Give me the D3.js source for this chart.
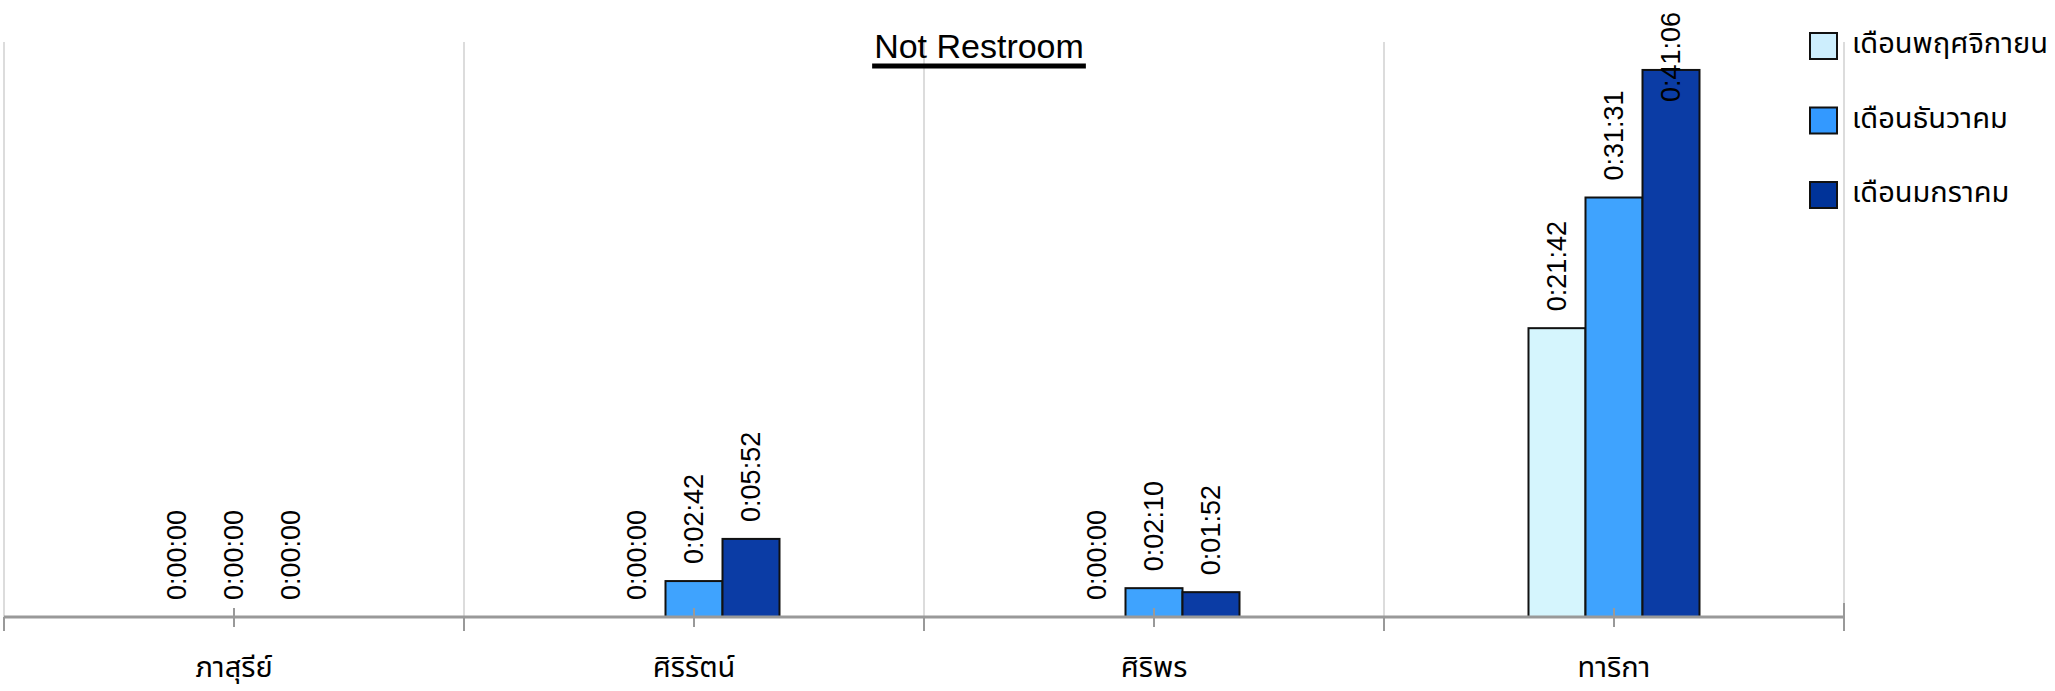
<!DOCTYPE html>
<html>
<head>
<meta charset="utf-8">
<script src="https://cdn.jsdelivr.net/npm/d3@7"></script>
<style>
  body { margin: 0; background: #fff; }
  svg { display: block; }
</style>
</head>
<body>
<div id="chart"></div>
<script>
// Chart data (durations in seconds, labels as h:mm:ss)
var categories = ["ภาสุรีย์", "ศิริรัตน์", "ศิริพร", "ทาริกา"];
var seriesNames = ["เดือนพฤศจิกายน", "เดือนธันวาคม", "เดือนมกราคม"];
var novValues = [0, 0, 0, 1302];
var decValues = [0, 162, 130, 1891];
var janValues = [0, 352, 112, 2466];
var yMax = 2592;
var titleText = "Not Restroom";

function fmt(s) {
    var h = Math.floor(s / 3600);
    var m = Math.floor((s % 3600) / 60);
    var sec = s % 60;
    return h + ":" + (m < 10 ? "0" : "") + m + ":" + (sec < 10 ? "0" : "") + sec;
}

function init() {
    var w = 2055, h = 691;
    var left = 4, right = 1844, top = 42, bottom = 617;
    var barColors = ["#d5f5fd", "#3fa3fe", "#0b3ca5"];
    var legendColors = ["#cdeefd", "#3399ff", "#003399"];
    var numFont = "'Liberation Sans', Arial, sans-serif";
    var thaiFont = "'Noto Sans Thai', 'Noto Sans Thai UI', 'Noto Sans', sans-serif";

    var svg = d3.select("#chart").append("svg")
        .attr("width", w).attr("height", h);

    var allSeries = [novValues, decValues, janValues];
    var rows = categories.map(function(c, i) {
        return { cat: c, vals: allSeries.map(function(s, j) { return { key: seriesNames[j], idx: j, v: s[i] }; }) };
    });

    var x0 = d3.scaleBand().domain(categories).range([left, right]).padding(0);
    var x1 = d3.scaleBand().domain(seriesNames).range([0, x0.bandwidth()]).paddingInner(0).paddingOuter(2.535);
    var y = d3.scaleLinear().domain([0, yMax]).range([bottom, top]);

    // vertical grid at category boundaries
    var bounds = categories.map(function(c) { return x0(c); }).concat([right]);
    svg.append("g").selectAll("line").data(bounds).enter().append("line")
        .attr("x1", function(d) { return d; }).attr("x2", function(d) { return d; })
        .attr("y1", top).attr("y2", bottom)
        .attr("stroke", "#dcdcdc").attr("stroke-width", 2);

    // title
    var title = svg.append("text")
        .attr("x", 979).attr("y", 58)
        .attr("text-anchor", "middle")
        .style("font-family", numFont).style("font-size", "34px")
        .attr("fill", "#000").text(titleText);
    var tb = title.node().getBBox();
    svg.append("rect").attr("x", tb.x - 2).attr("y", 63.5).attr("width", tb.width + 4).attr("height", 5).attr("fill", "#000");

    // bars
    var groups = svg.append("g").selectAll("g").data(rows).enter().append("g")
        .attr("transform", function(d) { return "translate(" + x0(d.cat) + ",0)"; });

    groups.selectAll("rect").data(function(d) { return d.vals.filter(function(v) { return v.v > 0; }); })
        .enter().append("rect")
        .attr("x", function(d) { return x1(d.key); })
        .attr("y", function(d) { return y(d.v); })
        .attr("width", x1.bandwidth())
        .attr("height", function(d) { return bottom - y(d.v); })
        .attr("fill", function(d) { return barColors[d.idx]; })
        .attr("stroke", "#111").attr("stroke-width", 2);

    // value labels (rotated)
    groups.selectAll("text").data(function(d) { return d.vals; })
        .enter().append("text")
        .style("font-family", numFont).style("font-size", "27px")
        .attr("fill", "#000")
        .attr("dominant-baseline", "central")
        .text(function(d) { return fmt(d.v); })
        .each(function(d) {
            var len = this.getComputedTextLength();
            var cx = x1(d.key) + x1.bandwidth() / 2;
            var start = Math.max(y(d.v) - 17, 12 + len);
            d3.select(this).attr("transform", "translate(" + cx + "," + start + ") rotate(-90)");
        });

    // x axis line and ticks
    svg.append("line").attr("x1", left).attr("x2", right).attr("y1", bottom).attr("y2", bottom)
        .attr("stroke", "#999").attr("stroke-width", 3);
    svg.append("g").selectAll("line").data(bounds).enter().append("line")
        .attr("x1", function(d) { return d; }).attr("x2", function(d) { return d; })
        .attr("y1", function(d, i) { return i === bounds.length - 1 ? bottom - 14 : bottom; })
        .attr("y2", bottom + 14)
        .attr("stroke", "#999").attr("stroke-width", 2);
    svg.append("g").selectAll("line").data(categories).enter().append("line")
        .attr("x1", function(d) { return x0(d) + x0.bandwidth() / 2; })
        .attr("x2", function(d) { return x0(d) + x0.bandwidth() / 2; })
        .attr("y1", bottom - 9).attr("y2", bottom + 10)
        .attr("stroke", "#999").attr("stroke-width", 2);

    // category labels
    svg.append("g").selectAll("text").data(categories).enter().append("text")
        .attr("x", function(d) { return x0(d) + x0.bandwidth() / 2; })
        .attr("y", 677)
        .attr("text-anchor", "middle")
        .style("font-family", thaiFont).style("font-size", "29px")
        .attr("fill", "#000")
        .text(function(d) { return d; });

    // legend
    var legend = svg.append("g").selectAll("g").data(seriesNames).enter().append("g")
        .attr("transform", function(d, i) { return "translate(1810," + (33 + i * 74.5) + ")"; });
    legend.append("rect").attr("width", 27).attr("height", 26)
        .attr("fill", function(d, i) { return legendColors[i]; })
        .attr("stroke", "#111").attr("stroke-width", 2);
    legend.append("text").attr("x", 42).attr("y", 20)
        .style("font-family", thaiFont).style("font-size", "29px")
        .attr("fill", "#000")
        .text(function(d) { return d; });
}

window.onload = init;
</script>
</body>
</html>
